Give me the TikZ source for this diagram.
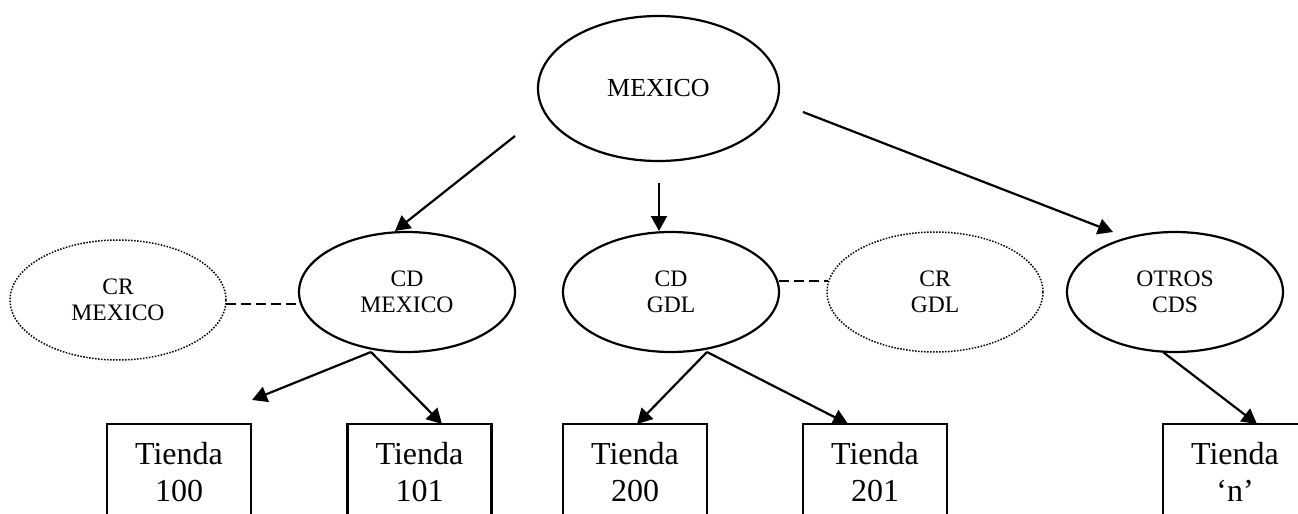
\documentclass[tikz,border=0pt]{standalone}
\usepackage{fontspec}
\setmainfont{Liberation Serif}
\usetikzlibrary{shapes.geometric,arrows.meta}
\tikzset{
  cdnode/.style={ellipse, draw, line width=1.1pt, inner sep=0pt, minimum width=108pt, minimum height=60pt, align=center, font=\fontsize{11.8}{13.3}\selectfont},
  crnode/.style={cdnode, line width=0.75pt, dash pattern=on 0.75pt off 0.75pt},
  topnode/.style={ellipse, draw, line width=1.1pt, inner sep=0pt, minimum width=120.5pt, minimum height=72.5pt, font=\fontsize{13}{15}\selectfont},
  storebox/.style={rectangle, draw, line width=1.1pt, inner sep=0pt, minimum width=72pt, minimum height=48pt, align=center, font=\fontsize{16}{18.5}\selectfont},
  arr/.style={line width=1.1pt, -{Triangle[length=7.5pt,width=8pt]}},
  dashlink/.style={line width=0.8pt, dash pattern=on 5pt off 2.5pt}
}
\begin{document}
\begin{tikzpicture}[x=0.5pt,y=-0.5pt]
\clip (0,0) rectangle (1298,514);
\fill[white] (0,0) rectangle (1298,514);

\node[topnode] (mex) at (658.5,88.5) {MEXICO};

\node[crnode] (crm) at (118,300) {CR\\MEXICO};
\node[cdnode] (cdm) at (407,292) {CD\\MEXICO};
\node[cdnode] (cdg) at (671,292) {CD\\GDL};
\node[crnode] (crg) at (935,292) {CR\\GDL};
\node[cdnode] (otr) at (1175,292) {OTROS\\CDS};

\node[storebox] (t100) at (179,472) {Tienda\\100};
\node[storebox] (t101) at (419.5,472) {Tienda\\101};
\node[storebox] (t200) at (635,472) {Tienda\\200};
\node[storebox] (t201) at (875,472) {Tienda\\201};
\node[storebox] (tn) at (1235,472) {Tienda\\‘n’};

% free ends and attachment points
\coordinate (m1) at (515,136);
\coordinate (m2) at (659,183);
\coordinate (m3) at (803,112);
\coordinate (e1) at (395,231);
\coordinate (e2) at (659,231);
\coordinate (e3) at (1113,232);
\coordinate (cdmb) at (371,352);
\coordinate (f100) at (252,400);
\coordinate (f101) at (442,424);
\coordinate (cdgb) at (707,352);
\coordinate (f200) at (637,424);
\coordinate (f201) at (848,424);
\coordinate (otrb) at (1163,352);
\coordinate (fn) at (1257,424);

\draw[arr] (m1) -- (e1);
\draw[arr] (m2) -- (e2);
\draw[arr] (m3) -- (e3);
\draw[arr] (cdmb) -- (f100);
\draw[arr] (cdmb) -- (f101);
\draw[arr] (cdgb) -- (f200);
\draw[arr] (cdgb) -- (f201);
\draw[arr] (otrb) -- (fn);

\coordinate (d1) at (226,304);
\coordinate (d2) at (299,304);
\coordinate (d3) at (779,281);
\coordinate (d4) at (828,281);
\draw[dashlink] (d1) -- (d2);
\draw[dashlink] (d3) -- (d4);
\end{tikzpicture}
\end{document}
